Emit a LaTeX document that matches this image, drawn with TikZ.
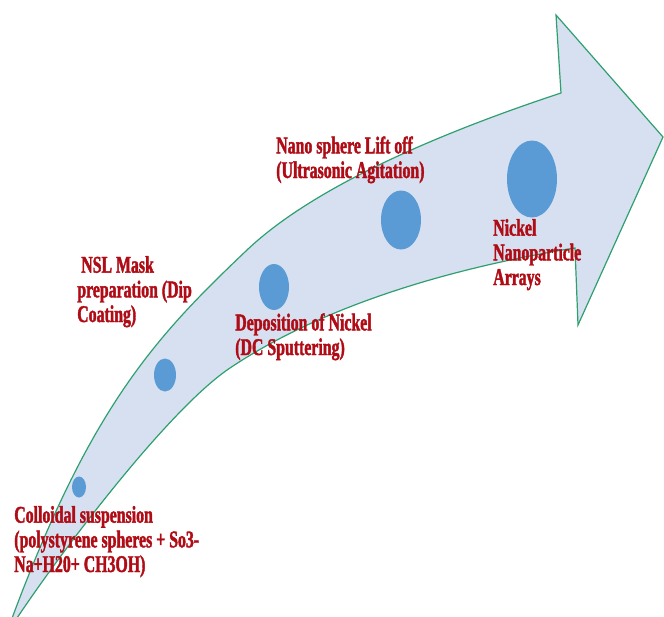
\documentclass[tikz,border=0pt]{standalone}
\usepackage{fontspec}
\newfontfamily\labelfont[FakeStretch=0.66, FakeBold=1.6]{Liberation Serif Bold}
\usepackage{tikz}
\definecolor{bodyblue}{RGB}{214,224,240}
\definecolor{edgegreen}{RGB}{46,160,110}
\definecolor{dotblue}{RGB}{91,155,213}
\definecolor{labelred}{RGB}{175,12,22}
\tikzset{
  steplabel/.style={anchor=base west, inner sep=0pt, align=left, text=labelred,
    font=\labelfont\fontsize{18}{18.5}\selectfont},
  dot/.style={fill=dotblue}
}

\begin{document}
\begin{tikzpicture}[x=.75pt, y=-.75pt]
\useasboundingbox (0,0) rectangle (664,617);
% curved arrow
\filldraw[fill=bodyblue, draw=edgegreen, line width=.9pt]
  (11,621) .. controls (91,405) and (157,335.5) .. (247,250)
  .. controls (317,183.5) and (451,129.3) .. (561,93)
  -- (556,15) -- (663,137) -- (578,325) -- (575,248)
  .. controls (465,265.6) and (330,301) .. (230,368)
  .. controls (170,408.2) and (65,546) .. (15,621)
  -- cycle;
% spheres
\fill[dot] (79,487) ellipse (7 and 10.5);
\fill[dot] (165,375) ellipse (11 and 16.5);
\fill[dot] (274,287) ellipse (15 and 23);
\fill[dot] (401,220) ellipse (20 and 29.5);
\fill[dot] (532,179) ellipse (25 and 38.5);
% steps
\node[steplabel] (colloid) at (14,572) {Colloidal suspension\\(polystyrene spheres + So3-\\Na+H20+ CH3OH)};
\node[steplabel] (nslmask) at (77,322) {\,NSL Mask\\preparation (Dip\\Coating)};
\node[steplabel] (deposit) at (235,355) {Deposition of Nickel\\(DC Sputtering)};
\node[steplabel] (liftoff) at (276,178) {Nano sphere Lift off\\(Ultrasonic Agitation)};
\node[steplabel] (arrays) at (493,285) {Nickel\\Nanoparticle\\Arrays};
\end{tikzpicture}
\end{document}
